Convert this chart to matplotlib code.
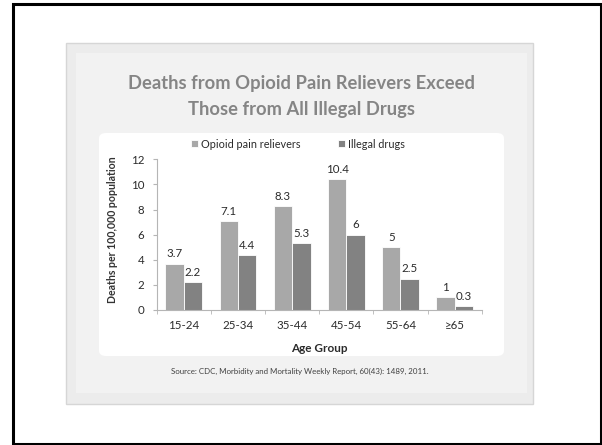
import matplotlib.pyplot as plt
from matplotlib.patches import Rectangle, FancyBboxPatch
import numpy as np

age_groups = ["15-24", "25-34", "35-44", "45-54", "55-64", "≥65"]
opioid = [3.7, 7.1, 8.3, 10.4, 5, 1]
illegal = [2.2, 4.4, 5.3, 6, 2.5, 0.3]
series_names = ["Opioid pain relievers", "Illegal drugs"]

W, H = 602, 445
plt.rcParams['font.family'] = ['Lato', 'DejaVu Sans']

fig = plt.figure(figsize=(W / 100, H / 100), dpi=100)
fig.patch.set_facecolor("white")


def box(x0, y0, x1, y1):
    # pixel box (top-left origin) -> figure fractions
    return x0 / W, 1 - y1 / H, (x1 - x0) / W, (y1 - y0) / H


def fx(x):
    return x / W


def fy(y):
    return 1 - y / H


# outer frame, slide and white panel
x, y, w, h = box(13, 4, 600.5, 443.5)
fig.patches.append(Rectangle((x, y), w, h, transform=fig.transFigure,
                             facecolor="white", edgecolor="black", lw=2.2, zorder=-3))
x, y, w, h = box(66, 43, 533, 404)
fig.patches.append(Rectangle((x, y), w, h, transform=fig.transFigure,
                             facecolor="#ececec", edgecolor="#d6d6d6", lw=1, zorder=-2))
x, y, w, h = box(76, 53, 527, 393)
fig.patches.append(Rectangle((x, y), w, h, transform=fig.transFigure,
                             facecolor="#f2f2f2", edgecolor="none", zorder=-2))
x, y, w, h = box(99, 133, 504, 356)
fig.patches.append(FancyBboxPatch((x, y), w, h, transform=fig.transFigure,
                                  boxstyle="round,pad=0,rounding_size=0.012",
                                  facecolor="white", edgecolor="none", zorder=-1))

# title
fig.text(fx(302), fy(84), "Deaths from Opioid Pain Relievers Exceed",
         ha="center", va="center", fontsize=13.2, fontweight="bold", color="#858585")
fig.text(fx(302), fy(109), "Those from All Illegal Drugs",
         ha="center", va="center", fontsize=13.2, fontweight="bold", color="#858585")

# axes
ax_l, ax_r, ax_b, ax_t = 156.7, 481.7, 310, 159.3
ax = fig.add_axes([fx(ax_l), fy(ax_b), (ax_r - ax_l) / W, (ax_b - ax_t) / H])
ax.set_facecolor("none")
ax.set_zorder(2)

xpos = np.arange(len(age_groups))
bw = 0.34
b1 = ax.bar(xpos - bw / 2, opioid, bw, color="#a8a8a8", edgecolor="white", lw=0.6,
            label=series_names[0])
b2 = ax.bar(xpos + bw / 2, illegal, bw, color="#828282", edgecolor="white", lw=0.6,
            label=series_names[1])
ax.bar_label(b1, labels=[f"{v:g}" for v in opioid], padding=3, fontsize=8.3, color="#2b2b2b")
ax.bar_label(b2, labels=[f"{v:g}" for v in illegal], padding=3, fontsize=8.3, color="#2b2b2b")

ax.set_xlim(-0.5, len(age_groups) - 0.5)
ax.set_ylim(0, 12)
ax.set_yticks(range(0, 13, 2))
ax.set_xticks(xpos)
ax.set_xticklabels(age_groups)
ax.set_xticks(np.arange(-0.5, len(age_groups)), minor=True)
ax.tick_params(axis="x", which="major", length=0, pad=7, labelsize=8.3, labelcolor="#2b2b2b")
ax.tick_params(axis="x", which="minor", length=3, color="#b5b5b5", direction="out")
ax.tick_params(axis="y", length=3, color="#b5b5b5", labelsize=8.3, labelcolor="#2b2b2b", pad=6)
for s in ["top", "right"]:
    ax.spines[s].set_visible(False)
for s in ["left", "bottom"]:
    ax.spines[s].set_color("#b5b5b5")
    ax.spines[s].set_linewidth(0.8)

# axis titles
fig.text(fx(113), fy(230), "Deaths per 100,000 population", rotation=90,
         ha="center", va="center", fontsize=7.6, fontweight="bold", color="#333333")
fig.text(fx(319), fy(348), "Age Group", ha="center", va="center",
         fontsize=8.5, fontweight="bold", color="#2b2b2b")

# legend
fig.legend(handles=[b1, b2], loc="center", bbox_to_anchor=(fx(298), fy(144)),
           ncol=2, frameon=False, fontsize=7.8, handlelength=0.6, handleheight=0.6,
           handletextpad=0.3, columnspacing=3.5, labelcolor="#2b2b2b")

# source
fig.text(fx(300), fy(371), "Source: CDC, Morbidity and Mortality Weekly Report, 60(43): 1489, 2011.",
         ha="center", va="center", fontsize=5.7, color="#404040")

fig.savefig("out.png", dpi=100)
